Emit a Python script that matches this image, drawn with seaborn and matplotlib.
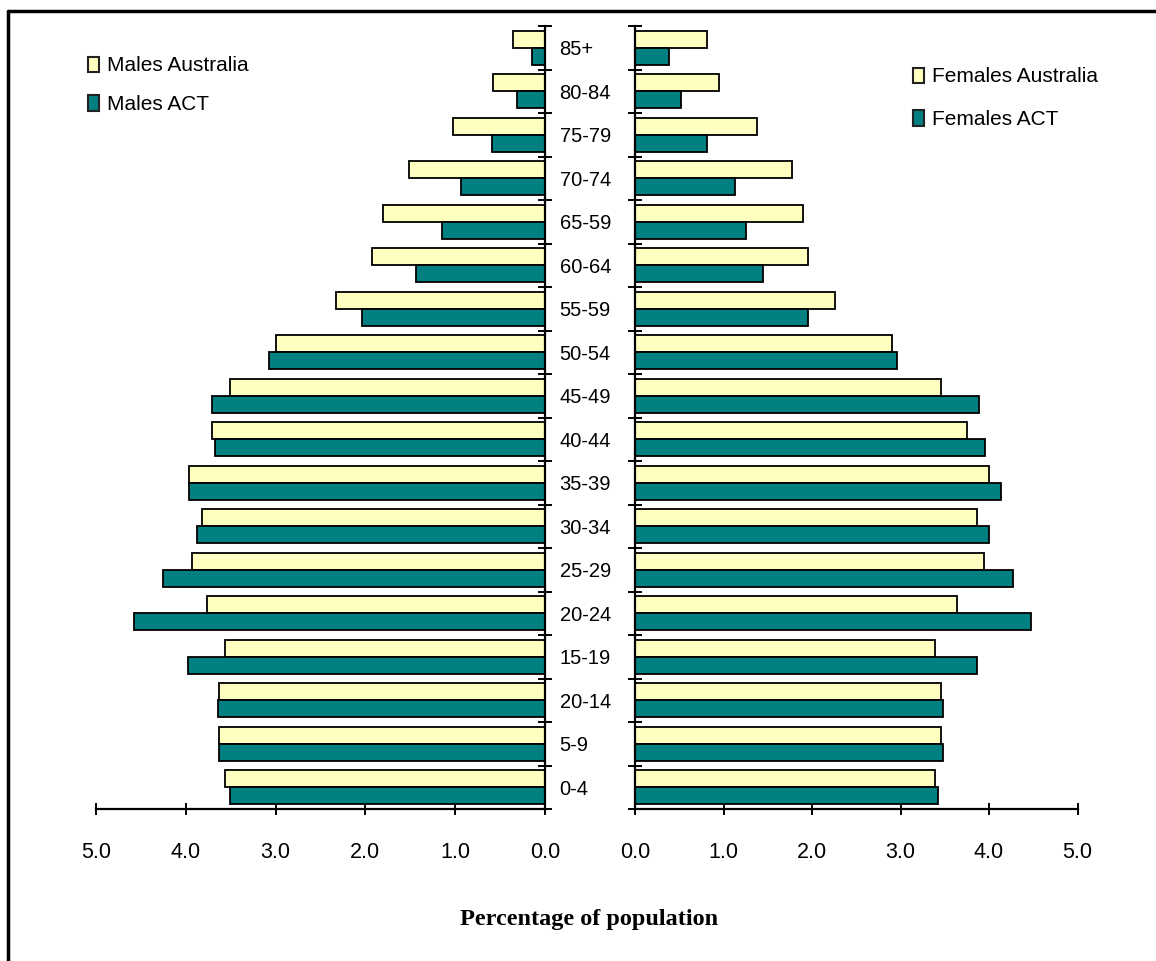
import matplotlib
matplotlib.use("Agg")
import matplotlib.pyplot as plt
import seaborn as sns
import pandas as pd
from matplotlib.lines import Line2D
from matplotlib.ticker import FixedLocator

# ---------------- data ----------------
age_groups = ["85+", "80-84", "75-79", "70-74", "65-59", "60-64", "55-59", "50-54",
              "45-49", "40-44", "35-39", "30-34", "25-29", "20-24", "15-19",
              "20-14", "5-9", "0-4"]
males_australia = [0.36, 0.58, 1.02, 1.51, 1.80, 1.93, 2.33, 3.00, 3.51, 3.71,
                   3.96, 3.82, 3.93, 3.76, 3.56, 3.63, 3.63, 3.56]
males_act = [0.15, 0.31, 0.59, 0.93, 1.15, 1.44, 2.04, 3.07, 3.71, 3.67,
             3.96, 3.87, 4.25, 4.58, 3.98, 3.64, 3.63, 3.51]
females_australia = [0.81, 0.95, 1.38, 1.77, 1.90, 1.95, 2.26, 2.90, 3.46, 3.75,
                     4.00, 3.87, 3.94, 3.64, 3.39, 3.46, 3.46, 3.39]
females_act = [0.38, 0.52, 0.81, 1.13, 1.25, 1.45, 1.95, 2.96, 3.89, 3.96,
               4.14, 4.00, 4.27, 4.48, 3.87, 3.48, 3.48, 3.42]
x_ticks = [0.0, 1.0, 2.0, 3.0, 4.0, 5.0]
x_label = "Percentage of population"

male_series = ["Males Australia", "Males ACT"]
female_series = ["Females Australia", "Females ACT"]

males = pd.DataFrame({
    "age": age_groups * 2,
    "pct": males_australia + males_act,
    "series": [male_series[0]] * len(age_groups) + [male_series[1]] * len(age_groups),
})
females = pd.DataFrame({
    "age": age_groups * 2,
    "pct": females_australia + females_act,
    "series": [female_series[0]] * len(age_groups) + [female_series[1]] * len(age_groups),
})

AUS_COLOR = "#FFFFC0"
ACT_COLOR = "#008080"

# ---------------- style ----------------
sns.set_theme(style="white")
sans = ["Liberation Sans Narrow", "Liberation Sans", "DejaVu Sans"]
plt.rcParams["font.family"] = sans
plt.rcParams["text.color"] = "black"
plt.rcParams["xtick.color"] = "black"
plt.rcParams["ytick.color"] = "black"

W, H = 1156, 961
fig = plt.figure(figsize=(W / 100, H / 100), dpi=100)

def fx(px):
    return px / W

def fy(py):
    return 1 - py / H

ax_top, ax_bot = 26, 809
axL = fig.add_axes([fx(96), fy(ax_bot), fx(545 - 96), (ax_bot - ax_top) / H])
axR = fig.add_axes([fx(635), fy(ax_bot), fx(1077.5 - 635), (ax_bot - ax_top) / H])

bar_kw = dict(y="age", x="pct", hue="series", orient="h", order=age_groups,
              width=0.78, gap=0, edgecolor="black", linewidth=1.3, saturation=1,
              errorbar=None, legend=True)
sns.barplot(data=males, ax=axL, hue_order=male_series,
            palette=[AUS_COLOR, ACT_COLOR], **bar_kw)
sns.barplot(data=females, ax=axR, hue_order=female_series,
            palette=[AUS_COLOR, ACT_COLOR], **bar_kw)

n = len(age_groups)
for ax in (axL, axR):
    ax.set_ylim(n - 0.5, -0.5)
    ax.set_xticks(x_ticks)
    ax.set_xticklabels([f"{v:.1f}" for v in x_ticks], fontsize=15.5, family=sans,
                       color="black")
    ax.set_xlabel("")
    ax.set_ylabel("")
    ax.set_facecolor("white")
    ax.patch.set_alpha(0)
    for s in ax.spines.values():
        s.set_visible(False)
    ax.spines["bottom"].set_visible(True)
    ax.spines["bottom"].set_color("black")
    ax.spines["bottom"].set_linewidth(1.6)
    ax.tick_params(axis="x", direction="inout", length=8, width=1.4, color="black",
                   pad=20, bottom=True, labelcolor="black")
    ax.yaxis.set_minor_locator(FixedLocator([i - 0.5 for i in range(n + 1)]))
    ax.grid(False)

axL.set_xlim(5, 0)
axR.set_xlim(0, 5)

# left panel: axis line on the right, age labels on the right
axL.spines["right"].set_visible(True)
axL.spines["right"].set_color("black")
axL.spines["right"].set_linewidth(1.6)
axL.yaxis.tick_right()
axL.tick_params(axis="y", which="major", length=0, pad=10.5, labelsize=14.5,
                labelcolor="black", right=True, left=False)
axL.tick_params(axis="y", which="minor", direction="inout", length=10, width=1.4,
                color="black", right=True, left=False)
for t in axL.get_yticklabels():
    t.set_family(sans)
    t.set_horizontalalignment("left")

axR.spines["left"].set_visible(True)
axR.spines["left"].set_color("black")
axR.spines["left"].set_linewidth(1.6)
axR.tick_params(axis="y", which="major", length=0, labelleft=False, left=False)
axR.tick_params(axis="y", which="minor", direction="inout", length=10, width=1.4,
                color="black", left=True)

# legends
for ax, anchor, spacing in ((axL, (fx(78), fy(46)), 0.95), (axR, (fx(903), fy(57)), 1.15)):
    handles, labels = ax.get_legend_handles_labels()
    ax.get_legend().remove()
    for h in handles:
        h.set_edgecolor("#222222")
        h.set_linewidth(1.5)
    fig.legend(handles, labels, loc="upper left", bbox_to_anchor=anchor,
               bbox_transform=fig.transFigure, frameon=False, borderpad=0,
               handlelength=0.5, handleheight=0.75, handletextpad=0.4,
               labelspacing=spacing, labelcolor="black",
               prop={"family": sans, "size": 15})

# x-axis title
fig.text(fx(589), fy(919), x_label, ha="center", va="center",
         fontfamily="Liberation Serif", fontweight="bold", fontsize=17.5, color="black")

# figure border (top and left)
fig.add_artist(Line2D([fx(8), 1], [fy(11), fy(11)], color="black", linewidth=2.5,
                      transform=fig.transFigure))
fig.add_artist(Line2D([fx(8), fx(8)], [fy(11), 0], color="black", linewidth=2.5,
                      transform=fig.transFigure))

fig.savefig("out.png", dpi=100, facecolor="white")
